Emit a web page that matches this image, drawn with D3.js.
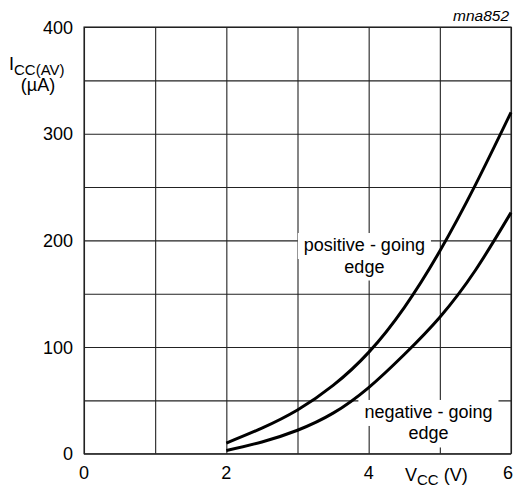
<!DOCTYPE html>
<html>
<head>
<meta charset="utf-8">
<script src="https://cdn.jsdelivr.net/npm/d3@7"></script>
<style>
  body { margin: 0; background: #fff; }
  text { font-family: "Liberation Sans", Arial, sans-serif; fill: #000; }
</style>
</head>
<body>
<svg width="514" height="487"></svg>
<script>
// supply voltage (V) and average supply current (µA)
const vcc = [2, 2.5, 3, 3.5, 4, 4.5, 5, 5.5, 6];
const positiveEdge = [10, 24, 41, 64, 95, 137, 190, 252, 320];
const negativeEdge = [3, 11, 22, 38, 62, 93, 128, 172, 226];

const xGridValues = [0, 1, 2, 3, 4, 5, 6];
const yGridValues = [0, 50, 100, 150, 200, 250, 300, 350, 400];
const xTickLabels = [0, 2, 4, 6];
const yTickLabels = [0, 100, 200, 300, 400];

const plotLeft = 84, plotRight = 511, plotTop = 27, plotBottom = 453.7;

const xScale = d3.scaleLinear().domain([0, 6]).range([plotLeft, plotRight]);
const yScale = d3.scaleLinear().domain([0, 400]).range([plotBottom, plotTop]);

const svg = d3.select('svg');
const gridG = svg.append('g');
const boxG = svg.append('g');
const curveG = svg.append('g');
const textG = svg.append('g');

// grid
const xGrid = d3.axisBottom(xScale)
  .tickValues(xGridValues)
  .tickSize(-(plotBottom - plotTop))
  .tickFormat('');
gridG.append('g')
  .attr('transform', 'translate(0,' + plotBottom + ')')
  .call(xGrid);

const yGrid = d3.axisLeft(yScale)
  .tickValues(yGridValues)
  .tickSize(-(plotRight - plotLeft))
  .tickFormat('');
gridG.append('g')
  .attr('transform', 'translate(' + plotLeft + ',0)')
  .call(yGrid);

gridG.selectAll('.domain').remove();
gridG.selectAll('.tick line')
  .attr('stroke', '#222')
  .attr('stroke-width', 1.1);
gridG.append('rect')
  .attr('x', plotLeft).attr('y', plotTop)
  .attr('width', plotRight - plotLeft).attr('height', plotBottom - plotTop)
  .attr('fill', 'none')
  .attr('stroke', '#222')
  .attr('stroke-width', 1.1);

// curves
const line = d3.line()
  .x((d, i) => xScale(vcc[i]))
  .y(d => yScale(d))
  .curve(d3.curveNatural);

[positiveEdge, negativeEdge].forEach(series => {
  curveG.append('path')
    .attr('d', line(series))
    .attr('fill', 'none')
    .attr('stroke', '#000')
    .attr('stroke-width', 3);
});

// tick labels
textG.selectAll('text.xtick')
  .data(xTickLabels)
  .enter()
  .append('text')
  .attr('class', 'xtick')
  .attr('x', d => d === 6 ? xScale(d) + 2 : xScale(d))
  .attr('y', 479)
  .attr('text-anchor', d => d === 6 ? 'end' : 'middle')
  .style('font-size', '18px')
  .text(d => d);

textG.selectAll('text.ytick')
  .data(yTickLabels)
  .enter()
  .append('text')
  .attr('class', 'ytick')
  .attr('x', 73)
  .attr('y', d => yScale(d) + 6.5)
  .attr('text-anchor', 'end')
  .style('font-size', '18px')
  .text(d => d);

// axis titles
const yTitle = textG.append('text')
  .attr('x', 9)
  .attr('y', 70)
  .style('font-size', '18px');
yTitle.append('tspan').text('I');
yTitle.append('tspan').attr('dy', 4.5).style('font-size', '15px').text('CC(AV)');

textG.append('text')
  .attr('x', 38)
  .attr('y', 90.5)
  .attr('text-anchor', 'middle')
  .style('font-size', '18px')
  .text('(µA)');

const xTitle = textG.append('text')
  .attr('x', 405)
  .attr('y', 481)
  .style('font-size', '18px');
xTitle.append('tspan').text('V');
xTitle.append('tspan').attr('dy', 4).style('font-size', '15px').text('CC');
xTitle.append('tspan').attr('dy', -4).text(' (V)');

textG.append('text')
  .attr('x', 509)
  .attr('y', 20.5)
  .attr('text-anchor', 'end')
  .style('font-size', '15.5px')
  .style('font-style', 'italic')
  .text('mna852');

// curve labels with white backing
function curveLabel(lines, v, current) {
  const cx = xScale(v);
  const cy = yScale(current);
  lines.forEach((str, i) => {
    const t = textG.append('text')
      .attr('x', cx)
      .attr('y', cy + i * 21.5)
      .attr('text-anchor', 'middle')
      .style('font-size', '18px')
      .text(str);
    const b = t.node().getBBox();
    boxG.append('rect')
      .attr('x', b.x - 6)
      .attr('y', b.y - 2)
      .attr('width', b.width + 12)
      .attr('height', b.height + 6)
      .attr('fill', '#fff');
  });
}

curveLabel(['positive - going', 'edge'], 3.94, 190);
curveLabel(['negative - going', 'edge'], 4.84, 33.5);
</script>
</body>
</html>
